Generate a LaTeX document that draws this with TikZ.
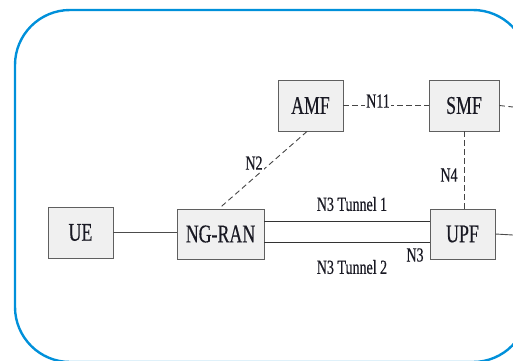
\documentclass[tikz,border=0pt]{standalone}
\usepackage{fontspec}
\setmainfont{Liberation Serif}[FakeStretch=0.7, FakeBold=0.4]
\usetikzlibrary{calc}
\definecolor{frameblue}{RGB}{0,144,218}
\definecolor{boxfill}{RGB}{240,240,240}
\definecolor{boxline}{RGB}{95,95,95}
\definecolor{txt}{RGB}{25,25,35}
\tikzset{
  nf/.style={draw=boxline, fill=boxfill, line width=0.9pt, inner sep=0pt, text=txt,
    font=\fontsize{25.5}{25.5}\selectfont},
  lbl/.style={inner sep=0pt, text=txt, font=\fontsize{20}{20}\selectfont},
  iface/.style={draw=gray!55!black, line width=0.9pt, dash pattern=on 5.5pt off 3.5pt},
  tun/.style={draw=black!80, line width=1pt}
}
\begin{document}
\begin{tikzpicture}[x=1pt,y=-1pt]
\useasboundingbox (0,0) rectangle (513,360);
\draw[frameblue, line width=2.4pt, rounded corners=55pt] (15,10) rectangle (528,362);
\node[nf, minimum width=65pt, minimum height=51pt] (amf) at (310.5,105.5) {AMF};
\node[nf, minimum width=70pt, minimum height=51pt] (smf) at (464,105.5) {SMF};
\node[nf, minimum width=65pt, minimum height=51pt] (ue) at (80.5,232.5) {UE};
\node[nf, minimum width=87pt, minimum height=50pt] (ran) at (220.5,234) {NG-RAN};
\node[nf, minimum width=65pt, minimum height=50pt] (upf) at (462.5,234) {UPF};
\coordinate (smfout) at (513,107);
\coordinate (upfout) at (513,235);
% connectors
\draw[iface] (amf.east) -- (amf.east -| smf.west);
\draw[iface] (smf.east) -- (smfout);
\draw[iface] (smf.south) -- (smf.south |- upf.north);
\draw[iface] ($(amf.south)+(-3.5,0)$) -- ($(ran.north)+(-1.5,0)$);
\draw[draw=black!70, line width=1pt] (ue.east) -- (ue.east -| ran.west);
\draw[tun] ($(ran.east)+(0,-13)$) -- ($(upf.west)+(0,-13)$);
\draw[tun] ($(ran.east)+(0,8)$) -- ($(upf.west)+(0,8)$);
\draw[draw=black!70, line width=0.9pt] (upf.east) -- (upfout);
% labels
\node[lbl, fill=white, inner xsep=1pt] (n11) at (378,101) {N11};
\node[lbl, fill=white, inner sep=1pt] (n2) at (254,163) {N2};
\node[lbl] (n4) at (449,175) {N4};
\node[lbl] (t1) at (352,204) {N3 Tunnel 1};
\node[lbl] (t2) at (352,267) {N3 Tunnel 2};
\node[lbl] (n3) at (415,255) {N3};
\end{tikzpicture}
\end{document}
